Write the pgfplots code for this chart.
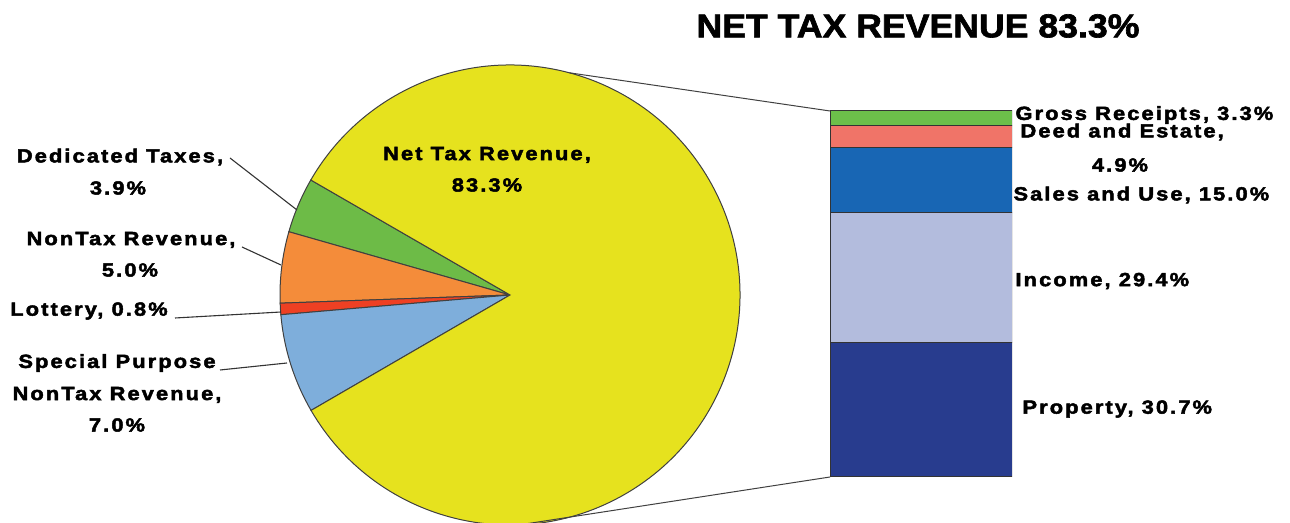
\documentclass[border=0pt]{standalone}
\usepackage{pgfplots}
\pgfplotsset{compat=1.18}
\usetikzlibrary{calc}
\usepackage{fontspec}
\setmainfont{Liberation Sans}
\newfontfamily\labfont{Liberation Sans}[LetterSpace=11, FakeStretch=1.15, FakeBold=2.5]
\newfontfamily\titlefont{Liberation Sans}[FakeStretch=1.08, FakeBold=2]
\definecolor{pyellow}{HTML}{E6E21E}
\definecolor{pgreen}{HTML}{6DBB47}
\definecolor{porange}{HTML}{F48C3A}
\definecolor{pred}{HTML}{EE4023}
\definecolor{pblue}{HTML}{7EAEDB}
\definecolor{bgreen}{HTML}{6CBF4A}
\definecolor{bsalmon}{HTML}{F07468}
\definecolor{bsales}{HTML}{1866B4}
\definecolor{bincome}{HTML}{B3BCDD}
\definecolor{bprop}{HTML}{283C8E}
\newcommand{\lab}{\labfont\bfseries\fontsize{19bp}{22bp}\selectfont}
\begin{document}
\begin{tikzpicture}[x=1bp,y=1bp]
\useasboundingbox (0,0) rectangle (1290,523);
% frame axis holding the pie, one unit = one pixel of the reference
\begin{axis}[at={(0,0)}, anchor=south west, scale only axis,
    width=1290bp, height=523bp, xmin=0, xmax=1290, ymin=0, ymax=523, hide axis]
\coordinate (C) at (axis cs:510,228);
\end{axis}
% pie: shares in percent, starting at 150 degrees
\def\startang{150}
\foreach \v/\c in {3.9/pgreen, 5.0/porange, 0.8/pred, 7.0/pblue, 83.3/pyellow}{
  \pgfmathsetmacro\endang{\startang+3.6*\v}
  \filldraw[fill=\c, draw=black!75, line width=1bp]
    (C) -- ++(\startang:230bp) arc[start angle=\startang, end angle=\endang, radius=230bp] -- cycle;
  \xdef\startang{\endang}
}
% connectors to the bar
\draw[black!75, line width=1bp] ($(C)+(75:230bp)$) -- (830,412);
\draw[black!75, line width=1bp] ($(C)+(272.5:230bp)$) -- (830,46);
% breakdown of net tax revenue
\begin{axis}[at={(830bp,46bp)}, anchor=south west, scale only axis,
    width=182bp, height=366bp, xmin=-0.5, xmax=0.5, ymin=0, ymax=83.3,
    hide axis, ybar stacked, bar width=182bp]
\addplot[fill=bprop, draw=black!80, line width=1bp] coordinates {(0,30.7)};
\addplot[fill=bincome, draw=black!80, line width=1bp] coordinates {(0,29.4)};
\addplot[fill=bsales, draw=black!80, line width=1bp] coordinates {(0,15.0)};
\addplot[fill=bsalmon, draw=black!80, line width=1bp] coordinates {(0,4.9)};
\addplot[fill=bgreen, draw=black!80, line width=1bp] coordinates {(0,3.3)};
\end{axis}
% title
\node at (918,497) {\titlefont\bfseries\fontsize{33bp}{36bp}\selectfont NET TAX REVENUE 83.3\%};
% pie labels
\node at (120,366) {\lab Dedicated Taxes,};
\node at (118,335) {\lab 3.9\%};
\node at (131,283) {\lab NonTax Revenue,};
\node at (130,253) {\lab 5.0\%};
\node at (89,212) {\lab Lottery, 0.8\%};
\node at (117,160) {\lab Special Purpose};
\node at (117,128) {\lab NonTax Revenue,};
\node at (117,98) {\lab 7.0\%};
\node at (487,368) {\lab Net Tax Revenue,};
\node at (487,338) {\lab 83.3\%};
\draw[black!80, line width=1.1bp] (230,365) -- (297,313);
\draw[black!80, line width=1.1bp] (242,276) -- (281,258);
\draw[black!80, line width=1.1bp] (175,205) -- (281,211);
\draw[black!80, line width=1.1bp] (220,153) -- (287,160);
% bar labels
\node[anchor=west] at (1012,408) {\lab Gross Receipts, 3.3\%};
\node[anchor=west] at (1017,391) {\lab Deed and Estate,};
\node at (1120,358) {\lab 4.9\%};
\node[anchor=west] at (1010,328) {\lab Sales and Use, 15.0\%};
\node[anchor=west] at (1012,242) {\lab Income, 29.4\%};
\node[anchor=west] at (1019,114) {\lab Property, 30.7\%};
\end{tikzpicture}
\end{document}
